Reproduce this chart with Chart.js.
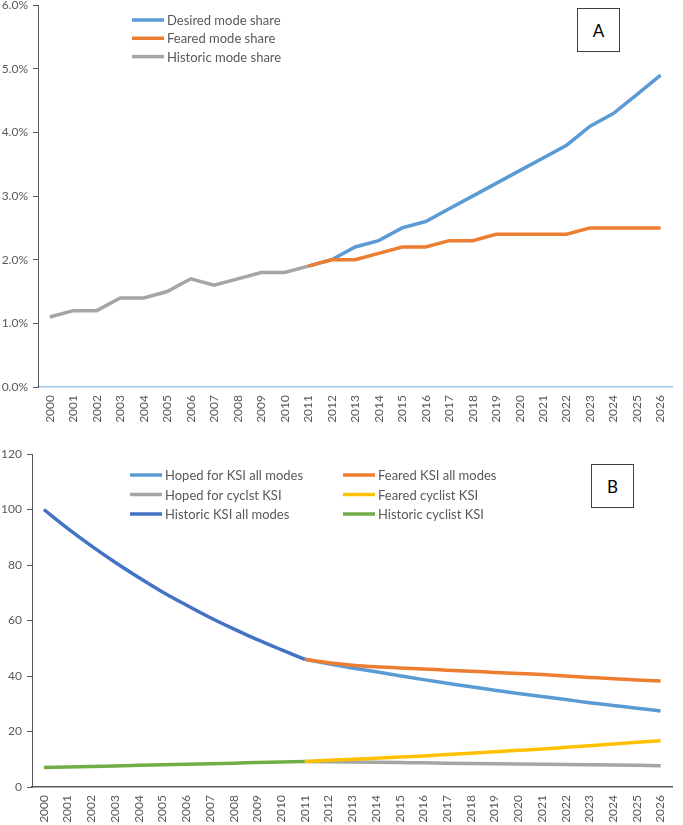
<!DOCTYPE html>
<html>
<head>
<meta charset="utf-8">
<script src="https://cdn.jsdelivr.net/npm/chart.js@4"></script>
<style>
body { margin: 0; background: #fff; width: 683px; height: 825px; overflow: hidden; position: relative; font-family: Lato, sans-serif; }
.panel { position: absolute; left: 0; width: 683px; }
#panelA { top: -7px; height: 435px; }
#panelB { top: 428px; height: 397px; }
.tag { position: absolute; border: 1.5px solid #404040; box-sizing: border-box; background: #fff;
       display: flex; align-items: center; justify-content: center; font-size: 17px; color: #000; }
</style>
</head>
<body>
<div class="panel" id="panelA"><canvas id="shareChart"></canvas></div>
<div class="panel" id="panelB"><canvas id="ksiChart"></canvas></div>
<div class="tag" style="left:577px; top:8px; width:43px; height:44px;">A</div>
<div class="tag" style="left:591px; top:464px; width:43px; height:44px;">B</div>
<script>
const years = ['2000', '2001', '2002', '2003', '2004', '2005', '2006', '2007', '2008', '2009',
    '2010', '2011', '2012', '2013', '2014', '2015', '2016', '2017', '2018', '2019',
    '2020', '2021', '2022', '2023', '2024', '2025', '2026'];

// panel A, mode share in percent
const desiredShare = [null, null, null, null, null, null, null, null, null, null, null,
    1.9, 2.0, 2.2, 2.3, 2.5, 2.6, 2.8, 3.0, 3.2, 3.4, 3.6, 3.8, 4.1, 4.3, 4.6, 4.9];
const fearedShare = [null, null, null, null, null, null, null, null, null, null, null,
    1.9, 2.0, 2.0, 2.1, 2.2, 2.2, 2.3, 2.3, 2.4, 2.4, 2.4, 2.4, 2.5, 2.5, 2.5, 2.5];
const historicShare = [1.1, 1.2, 1.2, 1.4, 1.4, 1.5, 1.7, 1.6, 1.7, 1.8, 1.8, 1.9,
    null, null, null, null, null, null, null, null, null, null, null, null, null, null, null];

// panel B, KSI index (2000 = 100)
const hopedKsiAll = [null, null, null, null, null, null, null, null, null, null, null,
    46.0, 44.4, 42.9, 41.5, 40.1, 38.7, 37.4, 36.1, 34.9, 33.7, 32.6, 31.5, 30.4, 29.4, 28.4, 27.4];
const fearedKsiAll = [null, null, null, null, null, null, null, null, null, null, null,
    46.0, 44.8, 43.9, 43.3, 42.9, 42.5, 42.1, 41.7, 41.3, 40.9, 40.5, 40.0, 39.5, 39.0, 38.6, 38.2];
const hopedCyclistKsi = [null, null, null, null, null, null, null, null, null, null, null,
    9.2, 9.1, 9.0, 8.9, 8.8, 8.7, 8.6, 8.5, 8.4, 8.3, 8.2, 8.1, 8.0, 7.9, 7.8, 7.7];
const fearedCyclistKsi = [null, null, null, null, null, null, null, null, null, null, null,
    9.2, 9.6, 10.0, 10.4, 10.8, 11.2, 11.7, 12.2, 12.7, 13.2, 13.7, 14.3, 14.9, 15.5, 16.1, 16.7];
const historicKsiAll = [100, 93.2, 86.9, 81.0, 75.5, 70.3, 65.6, 61.1, 57.0, 53.1, 49.5, 46.0,
    null, null, null, null, null, null, null, null, null, null, null, null, null, null, null];
const historicCyclistKsi = [7.0, 7.2, 7.4, 7.6, 7.8, 8.0, 8.2, 8.4, 8.6, 8.8, 9.0, 9.2,
    null, null, null, null, null, null, null, null, null, null, null, null, null, null, null];

Chart.defaults.font.family = 'Lato, sans-serif';
Chart.defaults.font.size = 12;
Chart.defaults.color = '#595959';

// legend drawn inside the plot, Excel style
const insideLegend = {
    id: 'insideLegend',
    afterDraw(chart, args, opts) {
        if (!opts.x) return;
        const ctx = chart.ctx;
        ctx.save();
        ctx.font = opts.font;
        ctx.textBaseline = 'middle';
        ctx.fillStyle = '#595959';
        chart.data.datasets.forEach((ds, i) => {
            const col = i % opts.x.length;
            const row = Math.floor(i / opts.x.length);
            const x = opts.x[col];
            const y = opts.y + row * opts.rowGap;
            ctx.strokeStyle = ds.borderColor;
            ctx.lineWidth = 3.5;
            ctx.beginPath();
            ctx.moveTo(x, y);
            ctx.lineTo(x + 32, y);
            ctx.stroke();
            ctx.fillText(ds.label, x + 35, y + 1);
        });
        ctx.restore();
    }
};

function series(label, data, color, i, n) {
    return { label: label, data: data, borderColor: color, backgroundColor: color, order: n - i };
}

new Chart(document.getElementById('shareChart'), {
    type: 'line',
    plugins: [insideLegend],
    data: {
        labels: years,
        datasets: [
            series('Desired mode share', desiredShare, '#5B9BD5', 0, 3),
            series('Feared mode share', fearedShare, '#ED7D31', 1, 3),
            series('Historic mode share', historicShare, '#A5A5A5', 2, 3)
        ]
    },
    options: {
        responsive: true,
        maintainAspectRatio: false,
        animation: false,
        layout: { padding: 0 },
        elements: { point: { radius: 0 }, line: { borderWidth: 3.5, tension: 0 } },
        plugins: {
            legend: { display: false },
            tooltip: { enabled: false },
            insideLegend: { x: [132], y: 27, rowGap: 18.3, font: '13px Lato, sans-serif' }
        },
        scales: {
            x: {
                offset: true,
                grid: { display: false, drawTicks: false },
                border: { color: '#9DC3E6', width: 1.5 },
                ticks: { minRotation: 90, maxRotation: 90, autoSkip: false, padding: 8 },
                afterFit: s => { s.height = 41; }
            },
            y: {
                min: 0, max: 6,
                ticks: { stepSize: 1, padding: 5, callback: v => v.toFixed(1) + '%' },
                grid: { drawOnChartArea: false, tickLength: 5, color: '#595959' },
                border: { color: '#595959' },
                afterFit: s => { s.width = 38; }
            }
        }
    }
});

new Chart(document.getElementById('ksiChart'), {
    type: 'line',
    plugins: [insideLegend],
    data: {
        labels: years,
        datasets: [
            series('Hoped for KSI all modes', hopedKsiAll, '#5B9BD5', 0, 6),
            series('Feared KSI all modes', fearedKsiAll, '#ED7D31', 1, 6),
            series('Hoped for cyclst KSI', hopedCyclistKsi, '#A5A5A5', 2, 6),
            series('Feared cyclist KSI', fearedCyclistKsi, '#FFC000', 3, 6),
            series('Historic KSI all modes', historicKsiAll, '#4472C4', 4, 6),
            series('Historic cyclist KSI', historicCyclistKsi, '#70AD47', 5, 6)
        ]
    },
    options: {
        responsive: true,
        maintainAspectRatio: false,
        animation: false,
        layout: { padding: { top: 26, left: 0, right: 0, bottom: 0 } },
        elements: { point: { radius: 0 }, line: { borderWidth: 3.5, cubicInterpolationMode: 'monotone' } },
        plugins: {
            legend: { display: false },
            tooltip: { enabled: false },
            insideLegend: { x: [130, 343], y: 47, rowGap: 19.5, font: '13px Lato, sans-serif' }
        },
        scales: {
            x: {
                offset: true,
                grid: { display: false, drawTicks: false },
                border: { color: '#595959', width: 1.5 },
                ticks: { minRotation: 90, maxRotation: 90, autoSkip: false, padding: 8 },
                afterFit: s => { s.height = 38; }
            },
            y: {
                min: 0, max: 120,
                ticks: { stepSize: 20, padding: 5 },
                grid: { drawOnChartArea: false, tickLength: 5, color: '#595959' },
                border: { color: '#595959' },
                afterFit: s => { s.width = 32; }
            }
        }
    }
});
</script>
</body>
</html>
